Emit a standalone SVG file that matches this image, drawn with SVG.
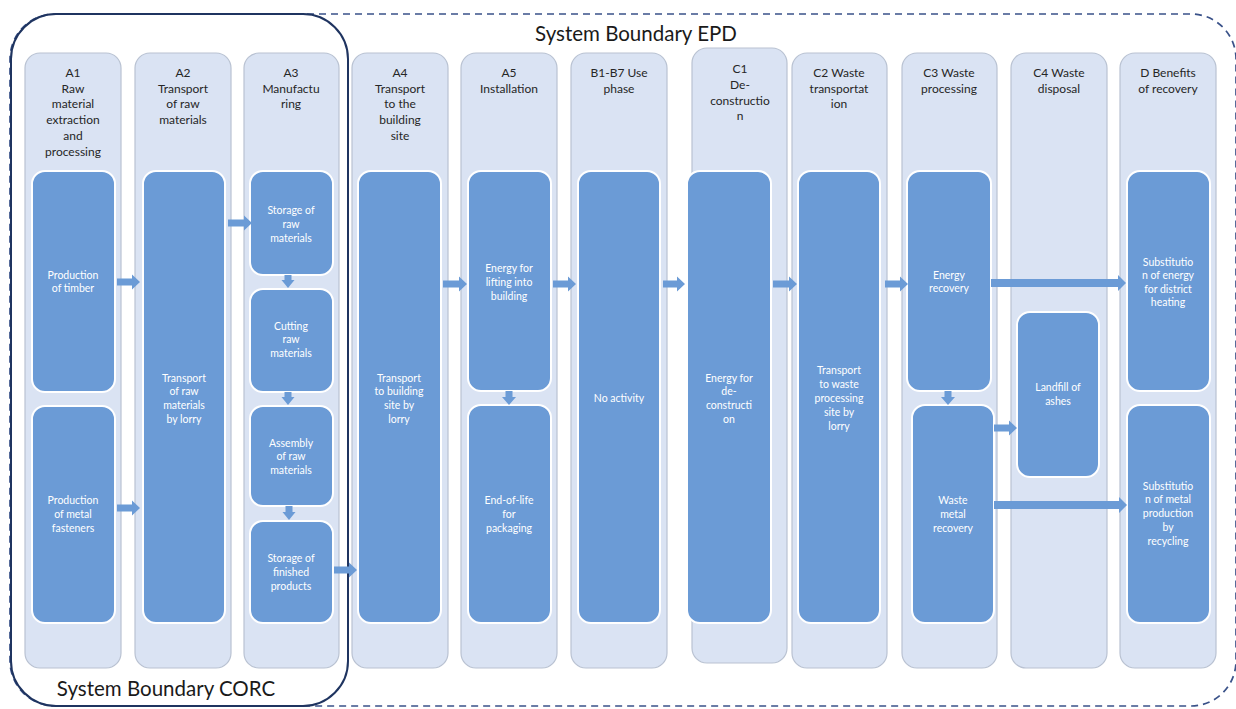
<svg xmlns="http://www.w3.org/2000/svg" width="1236" height="709" viewBox="0 0 1236 709">
<style>
.panel{fill:#dae3f3;stroke:#b9c2d2;stroke-width:1.2}
.box{fill:#6b9bd6;stroke:#ffffff;stroke-width:2}
.arr{fill:#6b9bd6}
.hd{font-family:Lato,"Liberation Sans",sans-serif;font-size:12px;fill:#262626;text-anchor:middle;dominant-baseline:central}
.tx{font-family:Lato,"Liberation Sans",sans-serif;font-size:10.5px;fill:#ffffff;text-anchor:middle;dominant-baseline:central}
.title{font-family:Lato,"Liberation Sans",sans-serif;font-size:20.5px;fill:#1a1a1a;text-anchor:middle;dominant-baseline:central}
</style>
<rect width="1236" height="709" fill="#ffffff"/>
<g id="boundary-epd">
<rect x="10" y="14" width="1226" height="692" rx="45" fill="none" stroke="#3a5289" stroke-width="1.7" stroke-dasharray="7,5"/>
<text class="title" x="636" y="33">System Boundary EPD</text>
</g>
<g id="boundary-corc">
<rect x="11" y="14" width="337" height="692" rx="45" fill="none" stroke="#1f3460" stroke-width="2"/>
<text class="title" x="166" y="688">System Boundary CORC</text>
</g>
<g id="A1">
<rect class="panel" x="25" y="53" width="96" height="615" rx="15"/>
<text class="hd" x="73"><tspan x="73" y="72">A1</tspan><tspan x="73" y="88">Raw</tspan><tspan x="73" y="103">material</tspan><tspan x="73" y="119">extraction</tspan><tspan x="73" y="135">and</tspan><tspan x="73" y="151">processing</tspan></text>
<g id="A1-timber"><rect class="box" x="32" y="171" width="83" height="221" rx="13"/>
<text class="tx"><tspan x="73" y="275">Production</tspan><tspan x="73" y="288">of timber</tspan></text></g>
<g id="A1-metal"><rect class="box" x="32" y="406" width="83" height="217" rx="13"/>
<text class="tx"><tspan x="73" y="500">Production</tspan><tspan x="73" y="514">of metal</tspan><tspan x="73" y="528">fasteners</tspan></text></g>
</g>
<g id="A2">
<rect class="panel" x="135" y="53" width="96" height="615" rx="15"/>
<text class="hd"><tspan x="183" y="72">A2</tspan><tspan x="183" y="88">Transport</tspan><tspan x="183" y="103">of raw</tspan><tspan x="183" y="119">materials</tspan></text>
<rect class="box" x="143" y="171" width="82" height="452" rx="13"/>
<text class="tx"><tspan x="184" y="378">Transport</tspan><tspan x="184" y="391">of raw</tspan><tspan x="184" y="405">materials</tspan><tspan x="184" y="419">by lorry</tspan></text>
</g>
<g id="A3">
<rect class="panel" x="244" y="53" width="95" height="615" rx="15"/>
<text class="hd"><tspan x="291" y="72">A3</tspan><tspan x="291" y="88">Manufactu</tspan><tspan x="291" y="103">ring</tspan></text>
<g id="A3-storage-raw"><rect class="box" x="250" y="171" width="83" height="104" rx="13"/>
<text class="tx"><tspan x="291" y="210">Storage of</tspan><tspan x="291" y="224">raw</tspan><tspan x="291" y="238">materials</tspan></text></g>
<g id="A3-cutting"><rect class="box" x="250" y="289" width="83" height="103" rx="13"/>
<text class="tx"><tspan x="291" y="326">Cutting</tspan><tspan x="291" y="339">raw</tspan><tspan x="291" y="353">materials</tspan></text></g>
<g id="A3-assembly"><rect class="box" x="250" y="406" width="83" height="100" rx="13"/>
<text class="tx"><tspan x="291" y="443">Assembly</tspan><tspan x="291" y="456">of raw</tspan><tspan x="291" y="470">materials</tspan></text></g>
<g id="A3-storage-finished"><rect class="box" x="250" y="521" width="83" height="102" rx="13"/>
<text class="tx"><tspan x="291" y="558">Storage of</tspan><tspan x="291" y="572">finished</tspan><tspan x="291" y="586">products</tspan></text></g>
</g>
<g id="A4">
<rect class="panel" x="352" y="53" width="96" height="615" rx="15"/>
<text class="hd"><tspan x="400" y="72">A4</tspan><tspan x="400" y="88">Transport</tspan><tspan x="400" y="103">to the</tspan><tspan x="400" y="119">building</tspan><tspan x="400" y="135">site</tspan></text>
<rect class="box" x="358" y="171" width="83" height="452" rx="13"/>
<text class="tx"><tspan x="399" y="378">Transport</tspan><tspan x="399" y="391">to building</tspan><tspan x="399" y="405">site by</tspan><tspan x="399" y="419">lorry</tspan></text>
</g>
<g id="A5">
<rect class="panel" x="461" y="53" width="96" height="615" rx="15"/>
<text class="hd"><tspan x="509" y="72">A5</tspan><tspan x="509" y="88">Installation</tspan></text>
<g id="A5-lifting"><rect class="box" x="468" y="171" width="83" height="220" rx="13"/>
<text class="tx"><tspan x="509" y="268">Energy for</tspan><tspan x="509" y="282">lifting into</tspan><tspan x="509" y="296">building</tspan></text></g>
<g id="A5-packaging"><rect class="box" x="468" y="405" width="83" height="218" rx="13"/>
<text class="tx"><tspan x="509" y="500">End-of-life</tspan><tspan x="509" y="514">for</tspan><tspan x="509" y="528">packaging</tspan></text></g>
</g>
<g id="B">
<rect class="panel" x="571" y="53" width="96" height="615" rx="15"/>
<text class="hd"><tspan x="619" y="72">B1-B7 Use</tspan><tspan x="619" y="88">phase</tspan></text>
<rect class="box" x="578" y="171" width="82" height="452" rx="13"/>
<text class="tx" x="619" y="398">No activity</text>
</g>
<g id="C1">
<rect class="panel" x="692" y="48" width="95" height="615" rx="15"/>
<text class="hd"><tspan x="740" y="68">C1</tspan><tspan x="740" y="84">De-</tspan><tspan x="740" y="100">constructio</tspan><tspan x="740" y="115">n</tspan></text>
<rect class="box" x="687" y="171" width="84" height="452" rx="13"/>
<text class="tx"><tspan x="729" y="378">Energy for</tspan><tspan x="729" y="391">de-</tspan><tspan x="729" y="405">constructi</tspan><tspan x="729" y="419">on</tspan></text>
</g>
<g id="C2">
<rect class="panel" x="792" y="53" width="95" height="615" rx="15"/>
<text class="hd"><tspan x="839" y="72">C2 Waste</tspan><tspan x="839" y="88">transportat</tspan><tspan x="839" y="103">ion</tspan></text>
<rect class="box" x="798" y="171" width="82" height="452" rx="13"/>
<text class="tx"><tspan x="839" y="370">Transport</tspan><tspan x="839" y="384">to waste</tspan><tspan x="839" y="398">processing</tspan><tspan x="839" y="412">site by</tspan><tspan x="839" y="426">lorry</tspan></text>
</g>
<g id="C3">
<rect class="panel" x="902" y="53" width="95" height="615" rx="15"/>
<text class="hd"><tspan x="949" y="72">C3 Waste</tspan><tspan x="949" y="88">processing</tspan></text>
<g id="C3-energy"><rect class="box" x="907" y="171" width="84" height="220" rx="13"/>
<text class="tx"><tspan x="949" y="275">Energy</tspan><tspan x="949" y="288">recovery</tspan></text></g>
<g id="C3-metal"><rect class="box" x="912" y="405" width="82" height="218" rx="13"/>
<text class="tx"><tspan x="953" y="500">Waste</tspan><tspan x="953" y="514">metal</tspan><tspan x="953" y="528">recovery</tspan></text></g>
</g>
<g id="C4">
<rect class="panel" x="1011" y="53" width="96" height="615" rx="15"/>
<text class="hd"><tspan x="1059" y="72">C4 Waste</tspan><tspan x="1059" y="88">disposal</tspan></text>
<rect class="box" x="1017" y="312" width="82" height="165" rx="13"/>
<text class="tx"><tspan x="1058" y="387">Landfill of</tspan><tspan x="1058" y="401">ashes</tspan></text>
</g>
<g id="D">
<rect class="panel" x="1120" y="53" width="96" height="615" rx="15"/>
<text class="hd"><tspan x="1168" y="72">D Benefits</tspan><tspan x="1168" y="88">of recovery</tspan></text>
<g id="D-heating"><rect class="box" x="1127" y="171" width="83" height="220" rx="13"/>
<text class="tx"><tspan x="1168" y="262">Substitutio</tspan><tspan x="1168" y="275">n of energy</tspan><tspan x="1168" y="289">for district</tspan><tspan x="1168" y="302">heating</tspan></text></g>
<g id="D-metal"><rect class="box" x="1127" y="405" width="83" height="218" rx="13"/>
<text class="tx"><tspan x="1168" y="486">Substitutio</tspan><tspan x="1168" y="499">n of metal</tspan><tspan x="1168" y="513">production</tspan><tspan x="1168" y="527">by</tspan><tspan x="1168" y="541">recycling</tspan></text></g>
</g>
<g id="connectors" class="arr">
<path d="M117,278.5 H132 V274.5 L140,282 L132,289.5 V285.5 H117 Z"/>
<path d="M117,504.5 H132 V500.5 L140,508 L132,515.5 V511.5 H117 Z"/>
<path d="M228,219.5 H244 V215.5 L252,223 L244,230.5 V226.5 H228 Z"/>
<path d="M284.5,275 V280 H281.5 L288,288 L294.5,280 H291.5 V275 Z"/>
<path d="M284.5,392 V397 H281.5 L288,405 L294.5,397 H291.5 V392 Z"/>
<path d="M285.5,506 V512 H282.5 L289,520 L295.5,512 H292.5 V506 Z"/>
<path d="M334,566.5 H349 V562.5 L357,570 L349,577.5 V573.5 H334 Z"/>
<path d="M443,280.5 H459 V276.5 L467,284 L459,291.5 V287.5 H443 Z"/>
<path d="M553,280.5 H568 V276.5 L576,284 L568,291.5 V287.5 H553 Z"/>
<path d="M663,280.5 H677 V276.5 L685,284 L677,291.5 V287.5 H663 Z"/>
<path d="M773,280.5 H789 V276.5 L797,284 L789,291.5 V287.5 H773 Z"/>
<path d="M885,280.5 H900 V276.5 L908,284 L900,291.5 V287.5 H885 Z"/>
<path d="M991,279 H1118 V275 L1126,283 L1118,291 V287 H991 Z"/>
<path d="M505.5,391 V397 H502 L509,405 L516,397 H512.5 V391 Z"/>
<path d="M944.5,391 V397 H941 L948,405 L955,397 H951.5 V391 Z"/>
<path d="M994,424.5 H1009 V420.5 L1017,428 L1009,435.5 V431.5 H994 Z"/>
<path d="M994,501 H1119 V497 L1127,505 L1119,513 V509 H994 Z"/>
</g>
</svg>
